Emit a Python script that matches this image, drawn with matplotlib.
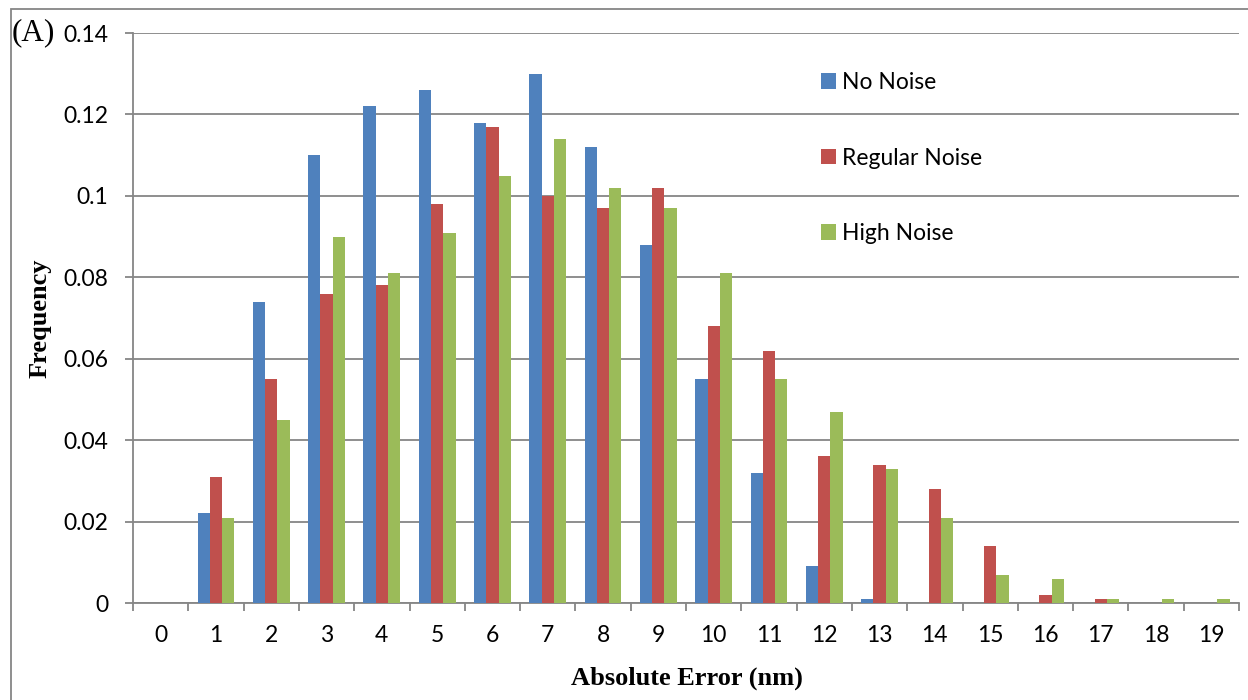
import numpy as np
import matplotlib
matplotlib.use("Agg")
import matplotlib.pyplot as plt
from matplotlib.patches import Rectangle, Patch

# absolute error bins (nm) and frequency for each noise level
error_bins = list(range(20))
no_noise = [0, 0.022, 0.074, 0.110, 0.122, 0.126, 0.118, 0.130, 0.112, 0.088,
            0.055, 0.032, 0.009, 0.001, 0, 0, 0, 0, 0, 0]
regular_noise = [0, 0.031, 0.055, 0.076, 0.078, 0.098, 0.117, 0.100, 0.097, 0.102,
                 0.068, 0.062, 0.036, 0.034, 0.028, 0.014, 0.002, 0.001, 0, 0]
high_noise = [0, 0.021, 0.045, 0.090, 0.081, 0.091, 0.105, 0.114, 0.102, 0.097,
              0.081, 0.055, 0.047, 0.033, 0.021, 0.007, 0.006, 0.001, 0.001, 0.001]

series = [("No Noise", no_noise, "#4F81BD"),
          ("Regular Noise", regular_noise, "#C0504D"),
          ("High Noise", high_noise, "#9BBB59")]

tick_font = "Lato"
label_font = "Liberation Serif"
grid_col = "#868686"

fig = plt.figure(figsize=(12.48, 7.0), dpi=100)
ax = fig.add_axes([133 / 1248, 1 - 603 / 700, (1239 - 133) / 1248, (603 - 33) / 700])

x = np.arange(len(error_bins))
width = 1 / 4.5
for i, (name, vals, col) in enumerate(series):
    ax.bar(x + (i - 1) * width, vals, width=width, color=col, label=name, zorder=3)

ax.set_xlim(-0.5, len(error_bins) - 0.5)
ax.set_ylim(0, 0.14)
ax.set_yticks(np.arange(0, 0.141, 0.02))
ax.set_yticklabels(["0", "0.02", "0.04", "0.06", "0.08", "0.1", "0.12", "0.14"])
ax.set_xticks(x)
ax.set_xticklabels([str(v) for v in error_bins])
ax.set_xticks(np.arange(-0.5, len(error_bins), 1.0), minor=True)

ax.yaxis.grid(True, color=grid_col, linewidth=1.3, zorder=0)
ax.set_axisbelow(True)
for side in ["top", "right"]:
    ax.spines[side].set_visible(False)
for side in ["left", "bottom"]:
    ax.spines[side].set_color(grid_col)
    ax.spines[side].set_linewidth(1.3)

ax.tick_params(axis="y", direction="out", length=6, width=1.3, color=grid_col,
               pad=12, labelsize=16.5)
ax.tick_params(axis="x", which="major", length=0, pad=16, labelsize=16.5)
ax.tick_params(axis="x", which="minor", direction="out", length=6, width=1.3,
               color=grid_col)
for lab in ax.get_xticklabels() + ax.get_yticklabels():
    lab.set_fontfamily(tick_font)

fig.text(570 / 1248 + 233 / 2496, 1 - 678 / 700, "Absolute Error (nm)",
         family=label_font, fontweight="bold", fontsize=19,
         ha="center", va="center")
fig.text(40 / 1248, 1 - 318 / 700, "Frequency", family=label_font,
         fontweight="bold", fontsize=19, rotation=90, ha="center", va="center")
fig.text(12 / 1248, 1 - 33 / 700, "(A)", family=label_font, fontsize=22.5,
         ha="left", va="center")

handles = [Patch(facecolor=col, label=name) for name, _, col in series]
leg = fig.legend(handles=handles, loc="upper left",
                 bbox_to_anchor=(821 / 1248, 1 - 72 / 700), frameon=False,
                 prop={"family": tick_font, "size": 16.5},
                 handlelength=0.65, handleheight=0.65, handletextpad=0.27,
                 labelspacing=2.38, borderpad=0, borderaxespad=0)

# outer frame around the panel
fig.patches.append(Rectangle((11 / 1248, -0.05), 1.2, 1 - 9 / 700 + 0.05,
                             transform=fig.transFigure, fill=False,
                             edgecolor=grid_col, linewidth=1.3, clip_on=False))

fig.savefig("out.png", dpi=100, facecolor="white")
